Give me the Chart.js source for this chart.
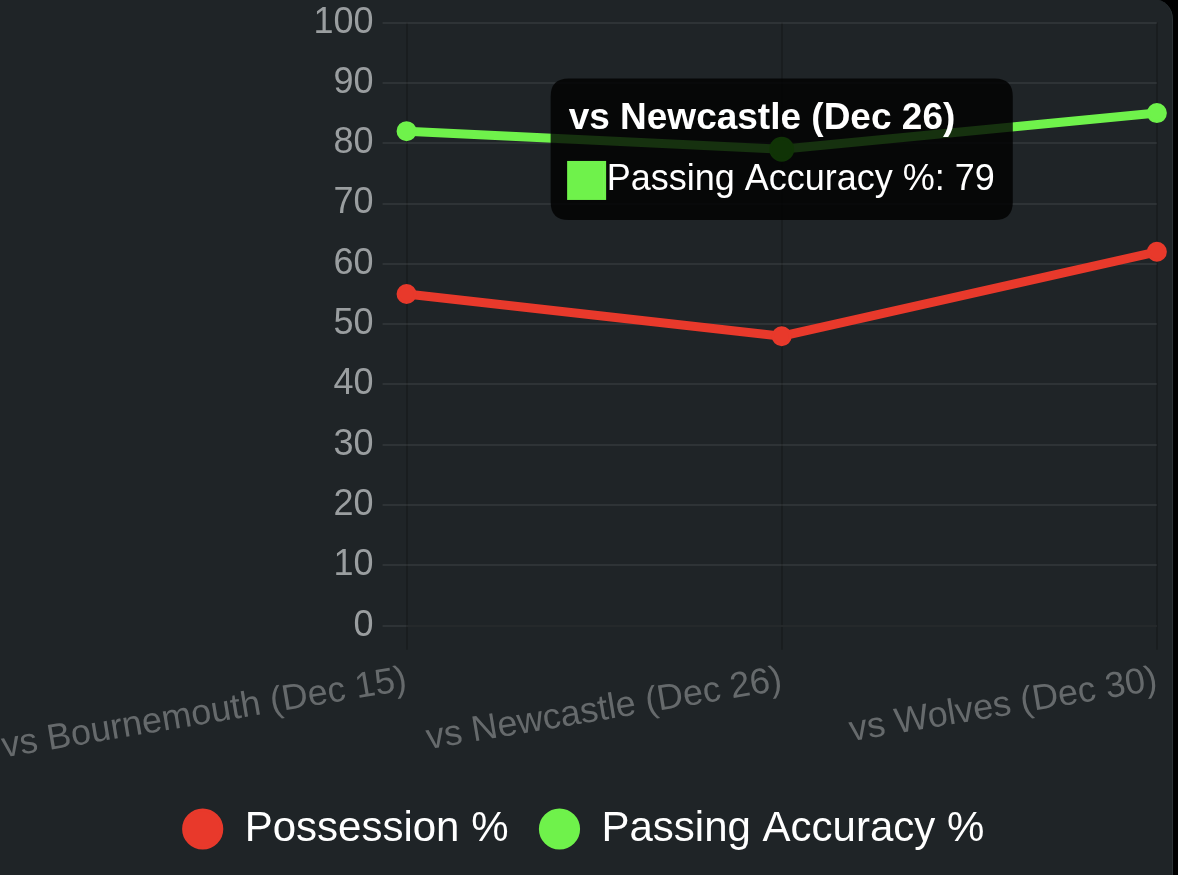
<!DOCTYPE html>
<html>
<head>
<meta charset="utf-8">
<script src="https://cdn.jsdelivr.net/npm/chart.js@4.4.1/dist/chart.umd.min.js"></script>
<style>
  html, body { margin: 0; padding: 0; background: #000; overflow: hidden; }
  body { width: 1178px; height: 875px; position: relative; }
  .card {
    position: absolute;
    left: -30px; top: -1px;
    width: 1203px; height: 910px;
    background: #1f2427;
    border-radius: 20px;
    border-right: 1px solid #2c3336;
    box-sizing: border-box;
    overflow: hidden;
  }
  .chart-box {
    position: absolute;
    left: 23px; top: -7px;
    width: 1180px; height: 881px;
  }
</style>
</head>
<body>
<div class="card">
  <div class="chart-box"><canvas id="matchChart"></canvas></div>
</div>
<script>
// Match labels and stats
const matches = ["vs Bournemouth (Dec 15)", "vs Newcastle (Dec 26)", "vs Wolves (Dec 30)"];
const possession = [55, 48, 62];
const passingAccuracy = [82, 79, 85];
const yTicks = [0, 10, 20, 30, 40, 50, 60, 70, 80, 90, 100];

const RED = "#e8392b";
const GREEN = "#6ff24b";

Chart.defaults.font.family = '"Helvetica Neue", Helvetica, Arial, "Liberation Sans", sans-serif';

const ctx = document.getElementById("matchChart").getContext("2d");

const chart = new Chart(ctx, {
    type: "line",
    data: {
        labels: matches,
        datasets: [
            {
                label: "Possession %",
                data: possession,
                borderColor: RED,
                backgroundColor: RED,
                borderWidth: 9,
                pointRadius: 8.5,
                pointBorderWidth: 3,
                pointHoverRadius: 11,
                pointHoverBorderWidth: 3,
                tension: 0,
                fill: false,
            },
            {
                label: "Passing Accuracy %",
                data: passingAccuracy,
                borderColor: GREEN,
                backgroundColor: GREEN,
                borderWidth: 9,
                pointRadius: 8.5,
                pointBorderWidth: 3,
                pointHoverRadius: 11,
                pointHoverBorderWidth: 3,
                tension: 0,
                fill: false,
            },
        ],
    },
    options: {
        responsive: true,
        maintainAspectRatio: false,
        animation: false,
        devicePixelRatio: 1,
        layout: { padding: { top: 0, bottom: 13 } },
        scales: {
            x: {
                grid: { color: "rgba(0,0,0,0.18)", lineWidth: 2, tickLength: 24 },
                border: { color: "rgba(0,0,0,0.18)", width: 2 },
                ticks: {
                    color: "#666a6c",
                    font: { size: 36 },
                    minRotation: 9.5,
                    maxRotation: 9.5,
                    padding: 9,
                },
            },
            y: {
                min: 0,
                max: 100,
                afterBuildTicks: (axis) => {
                    axis.ticks = yTicks.map((v) => ({ value: v }));
                },
                grid: { color: "rgba(255,255,255,0.07)", lineWidth: 2, tickLength: 24 },
                border: { display: false },
                ticks: {
                    color: "#9a9ea0",
                    font: { size: 36 },
                    padding: 9,
                },
            },
        },
        plugins: {
            legend: {
                position: "bottom",
                labels: {
                    color: "#ffffff",
                    font: { size: 42 },
                    usePointStyle: true,
                    boxWidth: 42,
                    boxHeight: 27,
                    padding: 30,
                },
            },
            tooltip: {
                backgroundColor: "rgba(0,0,0,0.8)",
                titleFont: { size: 37, weight: "bold" },
                bodyFont: { size: 36 },
                padding: 18,
                cornerRadius: 18,
                caretSize: 0,
                titleMarginBottom: 18,
                boxWidth: 36,
                boxHeight: 36,
                xAlign: "center",
                yAlign: "center",
            },
        },
    },
});

// Show the tooltip on the Newcastle passing point, as in the screenshot
const active = [{ datasetIndex: 1, index: 1 }];
const pt = chart.getDatasetMeta(1).data[1];
chart.setActiveElements(active);
chart.tooltip.setActiveElements(active, { x: pt.x, y: pt.y });
chart.update();
</script>
</body>
</html>
